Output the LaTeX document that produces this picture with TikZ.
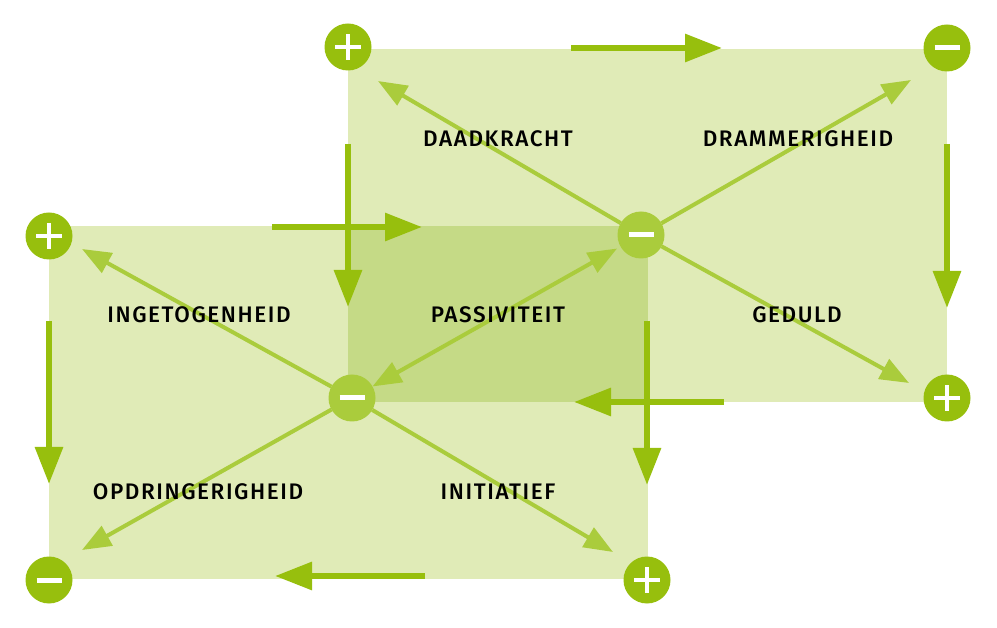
\documentclass[tikz,border=0pt]{standalone}
\usepackage{fontspec}
\setmainfont{Fira Sans}[UprightFont={* Medium},LetterSpace=7]
\usetikzlibrary{arrows.meta}
\definecolor{lightfill}{RGB}{224,235,183}
\definecolor{overfill}{RGB}{197,218,134}
\definecolor{darkg}{RGB}{151,191,13}
\definecolor{midg}{RGB}{170,204,60}
\begin{document}
\begin{tikzpicture}[x=1pt,y=-1pt,
  bigarrow/.style={draw=darkg,line width=6,-{Triangle[length=37,width=27]},color=darkg},
  thinarrow/.style={draw=midg,line width=4,-{Triangle[length=29,width=22]},color=midg},
  twoarrow/.style={draw=midg,line width=4,{Triangle[length=29,width=22]}-{Triangle[length=29,width=22]},color=midg},
  circbase/.style={circle,minimum size=47,inner sep=0,outer sep=0},
  pluscirc/.style={circbase,fill=darkg,path picture={
      \draw[white,line width=4.5] ([xshift=-13]path picture bounding box.center) -- ([xshift=13]path picture bounding box.center);
      \draw[white,line width=4.5] ([yshift=-13]path picture bounding box.center) -- ([yshift=13]path picture bounding box.center);}},
  minuscirc/.style={circbase,fill=darkg,path picture={
      \draw[white,line width=5] ([xshift=-12.5]path picture bounding box.center) -- ([xshift=12.5]path picture bounding box.center);}},
  centrecirc/.style={circbase,fill=midg,path picture={
      \draw[white,line width=5] ([xshift=-12.5]path picture bounding box.center) -- ([xshift=12.5]path picture bounding box.center);}},
  lab/.style={anchor=base,inner sep=0,font=\fontsize{22.5}{22.5}\selectfont,text=black}
]
\useasboundingbox (0,0) rectangle (997,628);
% panels
\fill[lightfill] (348,49) rectangle (947,402);
\fill[lightfill] (49,226) rectangle (648,579);
\fill[overfill] (348,226) rectangle (648,402);

% arrow end coordinates
\coordinate (ta1) at (571,48);  \coordinate (ta2) at (722,48);
\coordinate (tr1) at (947,144); \coordinate (tr2) at (947,308);
\coordinate (tb1) at (724,402); \coordinate (tb2) at (574,402);
\coordinate (tl1) at (348,144); \coordinate (tl2) at (348,307);
\coordinate (ba1) at (272,227); \coordinate (ba2) at (422,227);
\coordinate (br1) at (647,321); \coordinate (br2) at (647,485);
\coordinate (bb1) at (425,576); \coordinate (bb2) at (275,576);
\coordinate (bl1) at (49,321);  \coordinate (bl2) at (49,484);

\draw[bigarrow] (ta1) -- (ta2);
\draw[bigarrow] (tr1) -- (tr2);
\draw[bigarrow] (tb1) -- (tb2);
\draw[bigarrow] (tl1) -- (tl2);
\draw[bigarrow] (ba1) -- (ba2);
\draw[bigarrow] (br1) -- (br2);
\draw[bigarrow] (bb1) -- (bb2);
\draw[bigarrow] (bl1) -- (bl2);

% circles
\node[pluscirc]  (ptl) at (348,47) {};
\node[minuscirc] (mtr) at (947,48) {};
\node[pluscirc]  (pbr) at (947,398) {};
\node[pluscirc]  (qtl) at (49,236) {};
\node[minuscirc] (qbl) at (49,580) {};
\node[pluscirc]  (qbr) at (647,580) {};
\node[centrecirc] (c1) at (641,235) {};
\node[centrecirc] (c2) at (352,398) {};

% thin arrow tips
\coordinate (d1) at (378,81);
\coordinate (d2) at (911,80);
\coordinate (d3) at (909,383);
\coordinate (e1) at (82,249);
\coordinate (e2) at (82,550);
\coordinate (e3) at (613,552);

\draw[thinarrow] (c1) -- (d1);
\draw[thinarrow] (c1) -- (d2);
\draw[thinarrow] (c1) -- (d3);
\draw[thinarrow] (c2) -- (e1);
\draw[thinarrow] (c2) -- (e2);
\draw[thinarrow] (c2) -- (e3);
\draw[twoarrow,shorten <=4] (c1) -- (c2);

% labels
\node[lab] (l1) at (498,146.5) {DAADKRACHT};
\node[lab] (l2) at (798,146.5) {DRAMMERIGHEID};
\node[lab] (l3) at (199,323) {INGETOGENHEID};
\node[lab] (l4) at (498,323) {PASSIVITEIT};
\node[lab] (l5) at (797,323) {GEDULD};
\node[lab] (l6) at (198,500) {OPDRINGERIGHEID};
\node[lab] (l7) at (498,500) {INITIATIEF};
\end{tikzpicture}
\end{document}
